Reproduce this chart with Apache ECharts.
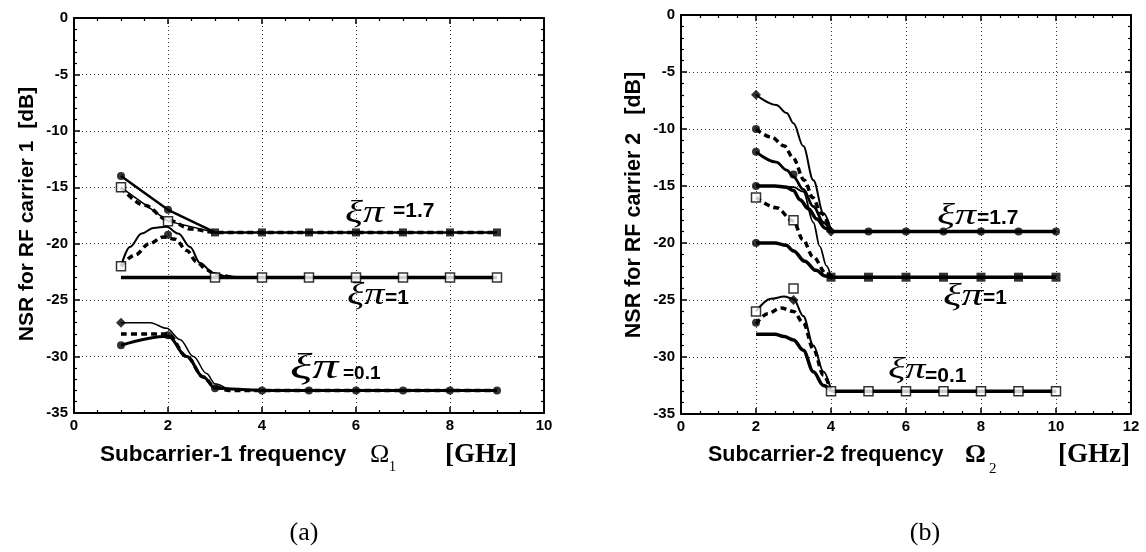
<!DOCTYPE html>
<html><head><meta charset="utf-8">
<script src="https://cdn.jsdelivr.net/npm/echarts@6/dist/echarts.min.js"></script>
<style>html,body{margin:0;padding:0;background:#fff}#c{width:1146px;height:552px}</style>
</head><body><div id="c"></div>
<script>
// ---------- Panel (a) data ----------
const aC17X = [1,2,3,4,5,6,7,8,9];
const aC17Y = [-14,-17,-19,-19,-19,-19,-19,-19,-19];
const aS17X = [1,2,3];
const aS17Y = [-15,-18,-19];
const aD17X = [1,1.5,2,2.5,3,4,5,6,7,8,9];
const aD17Y = [-15,-16.6,-17.9,-18.7,-19,-19,-19,-19,-19,-19,-19];
const aF1X = [1,3,4,5,6,7,8,9];
const aF1Y = [-23,-23,-23,-23,-23,-23,-23,-23];
const aT1X = [1,1.19,1.44,1.69,1.97,2.22,2.47,2.68,2.96,3.25,3.6];
const aT1Y = [-22,-20.3,-19.1,-18.6,-18.5,-19.1,-20.3,-21.7,-22.6,-22.9,-23];
const aD1X = [1,1.3,1.6,1.9,2.15,2.4,2.61,2.82,3.03,3.4];
const aD1Y = [-22,-21,-20,-19.4,-19.6,-20.6,-21.6,-22.3,-22.8,-23];
const aT01X = [1,1.62,1.97,2.26,2.54,2.82,3,3.3];
const aT01Y = [-27,-27,-27.5,-28.5,-30,-31.5,-32.4,-33];
const aD01X = [1,1.5,2,2.4,2.75,3,3.3,4,5,6,7,8,9];
const aD01Y = [-28,-28,-28,-30,-31.8,-32.7,-33,-33,-33,-33,-33,-33,-33];
const aK01X = [1,2,2.4,2.75,3,4,5,6,7,8,9];
const aK01Y = [-29,-28.2,-30,-31.8,-32.8,-33,-33,-33,-33,-33,-33];
// markers (a)
const aDotX = [1,2,2,1,2,3,4,5,6,7,8,9];
const aDotY = [-14,-17,-19.2,-29,-28.1,-32.8,-33,-33,-33,-33,-33,-33];
const aBoxX = [3,4,5,6,7,8,9];
const aBoxY = [-19,-19,-19,-19,-19,-19,-19];
const aOpenX = [1,2,1,3,4,5,6,7,8,9];
const aOpenY = [-15,-18,-22,-23,-23,-23,-23,-23,-23,-23];
const aDiaX = [1];
const aDiaY = [-27];

// ---------- Panel (b) data ----------
const bA17X = [2,2.54,2.82,3,3.26,3.53,3.8,4];
const bA17Y = [-7,-7.9,-8.6,-9.5,-11.5,-14.5,-17.4,-18.9];
const bB17X = [2,2.4,2.76,2.98,3.29,3.51,3.74,4];
const bB17Y = [-10,-10.7,-11.5,-12.5,-14.5,-16,-17.4,-18.9];
const bC17X = [2,2.54,2.82,3,3.26,3.53,3.8,4];
const bC17Y = [-12,-12.9,-13.6,-14.2,-15.3,-16.8,-18.2,-19];
const bK17X = [2,2.5,2.8,3,3.17,3.4,3.62,3.85,4,5,6,7,8,9,10];
const bK17Y = [-15,-15,-15.1,-15.4,-16.2,-17,-17.9,-18.7,-19,-19,-19,-19,-19,-19,-19];
const bE1X = [2,2.54,3,3.25,3.52,3.88,4.05];
const bE1Y = [-16,-16.9,-18.1,-19.7,-21.2,-22.7,-23];
const bK1X = [2,2.5,2.8,3,3.3,3.6,3.85,4,5,6,7,8,9,10];
const bK1Y = [-20,-20,-20.2,-20.7,-21.6,-22.4,-22.9,-23,-23,-23,-23,-23,-23,-23];
const bT1X = [2.6,3,3.26,3.53,3.7,3.88,4];
const bT1Y = [-15,-15.1,-15.5,-18.2,-20.3,-22,-23];
const bT01X = [2,2.4,2.75,3,3.26,3.53,3.8,4];
const bT01Y = [-26,-24.9,-24.7,-24.9,-26.4,-29,-31.3,-32.9];
const bD01X = [2,2.31,2.67,3,3.26,3.53,3.8,4];
const bD01Y = [-27.1,-26.2,-25.7,-26,-27,-29.3,-31.6,-33];
const bK01X = [2,2.5,2.75,3,3.26,3.53,3.8,4.07,5,6,7,8,9,10];
const bK01Y = [-28,-28,-28.2,-28.5,-29.4,-31.3,-32.5,-33,-33,-33,-33,-33,-33,-33];
// markers (b)
const bDotX = [2,2,2,3,5,6,7,8,9,10,2,2];
const bDotY = [-10,-12,-15,-14,-19,-19,-19,-19,-19,-19,-20,-27];
const bBoxX = [4,5,6,7,8,9,10];
const bBoxY = [-23,-23,-23,-23,-23,-23,-23];
const bOpenX = [2,3,2,3,4,5,6,7,8,9,10];
const bOpenY = [-16,-18,-26,-24,-33,-33,-33,-33,-33,-33,-33];
const bDiaX = [2,4,3];
const bDiaY = [-7,-19,-25];

// tick / axis text
const aXMax = 10, bXMax = 12, yMin = -35, yMax = 0;
const aYName = 'NSR for RF carrier 1  [dB]';
const bYName = 'NSR for RF carrier 2   [dB]';

const SANS = '"Liberation Sans", Arial, sans-serif';
const SERIF = '"Liberation Serif", "Times New Roman", serif';

function zip(xs, ys){ return xs.map((x,i)=>[x, ys[i]]); }

function xAx(grid, max, pos, main){
  return {type:'value', gridIndex:grid, position:pos, min:0, max:max, interval:2,
    axisLine:{show:true, onZero:false, lineStyle:{color:'#000', width:2}},
    axisTick:{show:true, inside:true, length:6, lineStyle:{color:'#000', width:1.5}},
    minorTick:{show:true, splitNumber:4, length:3, lineStyle:{color:'#000', width:1.2}},
    axisLabel:{show:main, color:'#000', fontWeight:'bold', fontSize:15, fontFamily:SANS, margin:5},
    splitLine:{show:main, lineStyle:{color:'#333', type:[1,3], width:1}}};
}
function yAx(grid, pos, main){
  return {type:'value', gridIndex:grid, position:pos, min:yMin, max:yMax, interval:5,
    axisLine:{show:true, onZero:false, lineStyle:{color:'#000', width:2}},
    axisTick:{show:true, inside:true, length:6, lineStyle:{color:'#000', width:1.5}},
    minorTick:{show:true, splitNumber:5, length:3, lineStyle:{color:'#000', width:1.2}},
    axisLabel:{show:main, color:'#000', fontWeight:'bold', fontSize:15, fontFamily:SANS, margin:6},
    splitLine:{show:main, lineStyle:{color:'#333', type:[1,3], width:1}}};
}

function line(xs, ys, ax, w, t, smooth){
  return {type:'line', xAxisIndex:ax, yAxisIndex:ax, data:zip(xs,ys), symbol:'none', showSymbol:false,
    smooth: smooth ? 0.35 : false, smoothMonotone: smooth ? 'x' : undefined,
    lineStyle:{color:'#000', width:w, type:t}, z:3, silent:true};
}
function marks(xs, ys, ax, symbol, size, open){
  return {type:'scatter', xAxisIndex:ax, yAxisIndex:ax, data:zip(xs,ys), symbol:symbol, symbolSize:size,
    itemStyle: open ? {color:'#fff', borderColor:'#000', borderWidth:1.5} : {color:'#000'}, z:open?6:5, silent:true};
}

const DASH = [6,4];
const series = [
  // panel a
  line(aC17X,aC17Y,0,2.5,'solid',false),
  line(aS17X,aS17Y,0,1.5,'solid',false),
  line(aD17X,aD17Y,0,3.5,DASH,true),
  line(aF1X,aF1Y,0,3.5,'solid',false),
  line(aT1X,aT1Y,0,2,'solid',true),
  line(aD1X,aD1Y,0,3.5,DASH,true),
  line(aT01X,aT01Y,0,1.5,'solid',true),
  line(aD01X,aD01Y,0,3.5,DASH,true),
  line(aK01X,aK01Y,0,3,'solid',true),
  marks(aDotX,aDotY,0,'circle',8,false),
  marks(aBoxX,aBoxY,0,'rect',8,false),
  marks(aOpenX,aOpenY,0,'rect',9,true),
  marks(aDiaX,aDiaY,0,'diamond',10,false),
  // panel b
  line(bA17X,bA17Y,2,2,'solid',true),
  line(bB17X,bB17Y,2,3.5,DASH,true),
  line(bC17X,bC17Y,2,2.8,'solid',true),
  line(bK17X,bK17Y,2,3.5,'solid',true),
  line(bE1X,bE1Y,2,3.5,DASH,true),
  line(bK1X,bK1Y,2,3.5,'solid',true),
  line(bT1X,bT1Y,2,1.8,'solid',true),
  line(bT01X,bT01Y,2,2,'solid',true),
  line(bD01X,bD01Y,2,3.5,DASH,true),
  line(bK01X,bK01Y,2,3.5,'solid',true),
  marks(bDotX,bDotY,2,'circle',8,false),
  marks(bBoxX,bBoxY,2,'rect',9,false),
  marks(bOpenX,bOpenY,2,'rect',9,true),
  marks(bDiaX,bDiaY,2,'diamond',10,false)
];

function txt(s, x, y, font, align, sx, rot){
  return {type:'text', z:10, x:x, y:y, scaleX:sx||1, scaleY:1, rotation:rot||0,
    style:{text:s, x:0, y:0, font:font, fill:'#000', textAlign:align||'left', textVerticalAlign:'middle'}};
}
const graphic = [
  txt(aYName,27,214,'bold 21px '+SANS,'center',1,Math.PI/2),
  txt(bYName,634,205,'bold 21.5px '+SANS,'center',1,Math.PI/2),
  txt('ξπ',345,214,'italic 31px '+SERIF,'left',1.35), txt('=1.7',393,211,'bold 21px '+SANS),
  txt('ξπ',347,296,'italic 31px '+SERIF,'left',1.3), txt('=1',385,298,'bold 21px '+SANS),
  txt('ξπ',290,369,'italic 36px '+SERIF,'left',1.45), txt('=0.1',343,374,'bold 19px '+SANS),
  txt('ξπ',937,216,'italic 30px '+SERIF,'left',1.4), txt('=1.7',977,218,'bold 21px '+SANS),
  txt('ξπ',943,297,'italic 31px '+SERIF,'left',1.4), txt('=1',983,298,'bold 21px '+SANS),
  txt('ξπ',888,370,'italic 30px '+SERIF,'left',1.35), txt('=0.1',925,376,'bold 21px '+SANS),
  txt('Subcarrier-1 frequency',100,455,'bold 22.5px '+SANS),
  txt('Ω',370,455,'26px '+SERIF), txt('1',389,467,'14px '+SERIF),
  txt('[GHz]',445,455,'bold 27px '+SERIF),
  txt('Subcarrier-2 frequency',708,455,'bold 21.5px '+SANS),
  txt('Ω',965,455,'bold 26px '+SERIF), txt('2',989,469,'15px '+SERIF),
  txt('[GHz]',1058,455,'bold 27px '+SERIF),
  txt('(a)',304,533,'26px '+SERIF,'center'),
  txt('(b)',925,533,'26px '+SERIF,'center')
];

const chart = echarts.init(document.getElementById('c'), null, {renderer:'canvas'});
chart.setOption({
  animation:false,
  backgroundColor:'#fff',
  grid:[{left:74, top:18, width:470, height:395}, {left:681, top:15, width:450, height:399}],
  xAxis:[xAx(0,aXMax,'bottom',true), xAx(0,aXMax,'top',false), xAx(1,bXMax,'bottom',true), xAx(1,bXMax,'top',false)],
  yAxis:[yAx(0,'left',true), yAx(0,'right',false), yAx(1,'left',true), yAx(1,'right',false)],
  series:series,
  graphic:graphic
});
</script></body></html>
